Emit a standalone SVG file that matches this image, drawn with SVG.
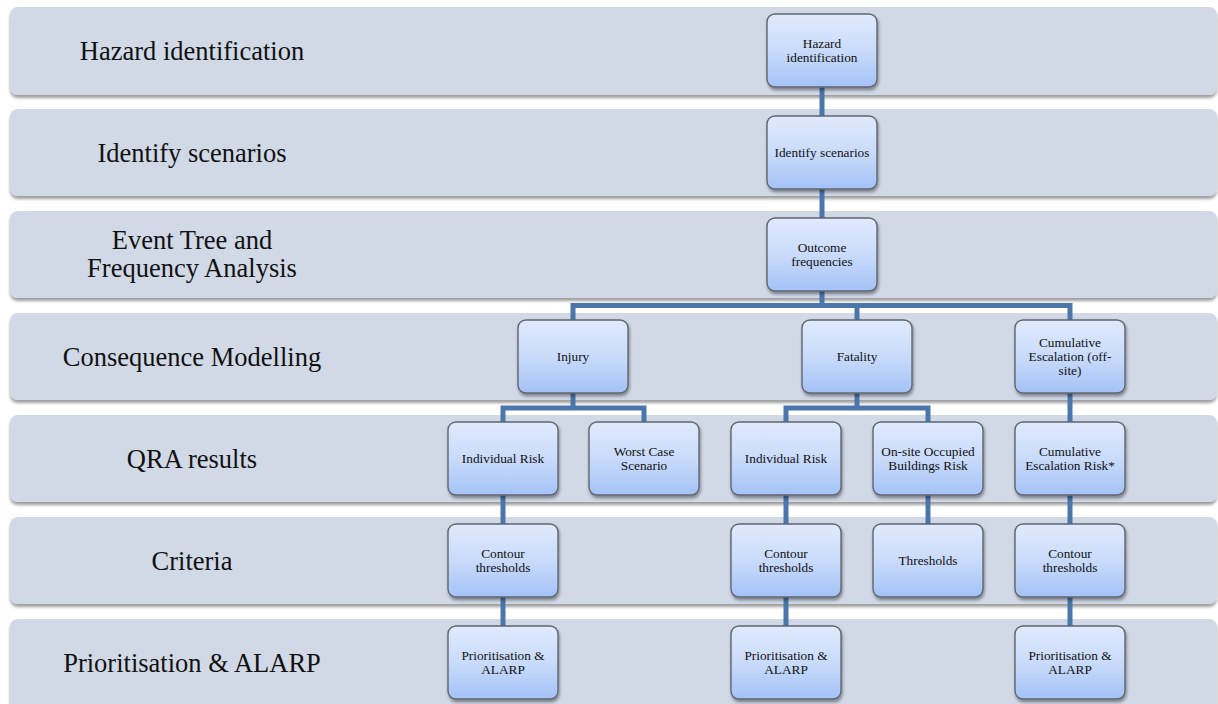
<svg xmlns="http://www.w3.org/2000/svg" width="1218" height="704" viewBox="0 0 1218 704">
<defs>
<linearGradient id="ng" x1="0" y1="0" x2="0" y2="1">
<stop offset="0" stop-color="#e0eafd"/>
<stop offset="0.5" stop-color="#c9dbfa"/>
<stop offset="1" stop-color="#a4c2f7"/>
</linearGradient>
<filter id="bs" x="-2%" y="-10%" width="104%" height="130%">
<feDropShadow dx="0" dy="3" stdDeviation="1.8" flood-color="#000" flood-opacity="0.38"/>
</filter>
<filter id="ns" x="-10%" y="-10%" width="125%" height="130%">
<feDropShadow dx="1" dy="2.5" stdDeviation="1.8" flood-color="#000" flood-opacity="0.4"/>
</filter>
</defs>
<style>
.band{fill:#d1d8e6;filter:url(#bs);}
.bl{font-family:"Liberation Serif","Times New Roman",serif;font-size:26.5px;fill:#111;text-anchor:middle;}
.node rect{fill:url(#ng);stroke:#5f6670;stroke-width:1.4;filter:url(#ns);}
.node text{font-family:"Liberation Serif","Times New Roman",serif;font-size:13.3px;fill:#111;text-anchor:middle;}
.conn path{fill:none;stroke:#4a76ac;stroke-width:5;stroke-linejoin:miter;}
</style>
<rect width="1218" height="704" fill="#ffffff"/>
<g id="bands">
<g id="band-hazard"><rect class="band" x="10" y="7" width="1207" height="88" rx="8"/><text class="bl" x="192" y="60">Hazard identification</text></g>
<g id="band-scenarios"><rect class="band" x="10" y="109" width="1207" height="87" rx="8"/><text class="bl" x="192" y="162">Identify scenarios</text></g>
<g id="band-event"><rect class="band" x="10" y="211" width="1207" height="87" rx="8"/><text class="bl" x="192" y="249">Event Tree and</text><text class="bl" x="192" y="277">Frequency Analysis</text></g>
<g id="band-consequence"><rect class="band" x="10" y="313" width="1207" height="87" rx="8"/><text class="bl" x="192" y="366">Consequence Modelling</text></g>
<g id="band-qra"><rect class="band" x="10" y="415" width="1207" height="87" rx="8"/><text class="bl" x="192" y="468">QRA results</text></g>
<g id="band-criteria"><rect class="band" x="10" y="517" width="1207" height="87" rx="8"/><text class="bl" x="192" y="570">Criteria</text></g>
<g id="band-alarp"><rect class="band" x="10" y="619" width="1207" height="92" rx="8"/><text class="bl" x="192" y="672">Prioritisation &amp; ALARP</text></g>
</g>
<g id="connectors" class="conn">
<path d="M822 87 V116"/>
<path d="M822 189 V218"/>
<path d="M822 291 V305.5"/>
<path d="M573 321 V305.5 H1070 V321"/>
<path d="M857 305.5 V321"/>
<path d="M573 393 V408"/>
<path d="M503 423 V408 H644 V423"/>
<path d="M857 393 V408"/>
<path d="M786 423 V408 H928 V423"/>
<path d="M1070 393 V423"/>
<path d="M503 495 V525"/>
<path d="M786 495 V525"/>
<path d="M928 495 V525"/>
<path d="M1070 495 V525"/>
<path d="M503 597 V627"/>
<path d="M786 597 V627"/>
<path d="M1070 597 V627"/>
</g>
<g id="n-hazard" class="node"><rect x="767" y="14" width="110" height="73" rx="8"/><text x="822" y="48">Hazard</text><text x="822" y="62">identification</text></g>
<g id="n-scenarios" class="node"><rect x="767" y="116" width="110" height="73" rx="8"/><text x="822" y="157">Identify scenarios</text></g>
<g id="n-outcome" class="node"><rect x="767" y="218" width="110" height="73" rx="8"/><text x="822" y="252">Outcome</text><text x="822" y="266">frequencies</text></g>
<g id="n-injury" class="node"><rect x="518" y="320" width="110" height="73" rx="8"/><text x="573" y="361">Injury</text></g>
<g id="n-fatality" class="node"><rect x="802" y="320" width="110" height="73" rx="8"/><text x="857" y="361">Fatality</text></g>
<g id="n-cumesc" class="node"><rect x="1015" y="320" width="110" height="73" rx="8"/><text x="1070" y="347">Cumulative</text><text x="1070" y="361">Escalation (off-</text><text x="1070" y="375">site)</text></g>
<g id="n-ir1" class="node"><rect x="448" y="422" width="110" height="73" rx="8"/><text x="503" y="463">Individual Risk</text></g>
<g id="n-wcs" class="node"><rect x="589" y="422" width="110" height="73" rx="8"/><text x="644" y="456">Worst Case</text><text x="644" y="470">Scenario</text></g>
<g id="n-ir2" class="node"><rect x="731" y="422" width="110" height="73" rx="8"/><text x="786" y="463">Individual Risk</text></g>
<g id="n-onsite" class="node"><rect x="873" y="422" width="110" height="73" rx="8"/><text x="928" y="456">On-site Occupied</text><text x="928" y="470">Buildings Risk</text></g>
<g id="n-cer" class="node"><rect x="1015" y="422" width="110" height="73" rx="8"/><text x="1070" y="456">Cumulative</text><text x="1070" y="470">Escalation Risk*</text></g>
<g id="n-c1" class="node"><rect x="448" y="524" width="110" height="73" rx="8"/><text x="503" y="558">Contour</text><text x="503" y="572">thresholds</text></g>
<g id="n-c2" class="node"><rect x="731" y="524" width="110" height="73" rx="8"/><text x="786" y="558">Contour</text><text x="786" y="572">thresholds</text></g>
<g id="n-thr" class="node"><rect x="873" y="524" width="110" height="73" rx="8"/><text x="928" y="565">Thresholds</text></g>
<g id="n-c3" class="node"><rect x="1015" y="524" width="110" height="73" rx="8"/><text x="1070" y="558">Contour</text><text x="1070" y="572">thresholds</text></g>
<g id="n-p1" class="node"><rect x="448" y="626" width="110" height="73" rx="8"/><text x="503" y="660">Prioritisation &amp;</text><text x="503" y="674">ALARP</text></g>
<g id="n-p2" class="node"><rect x="731" y="626" width="110" height="73" rx="8"/><text x="786" y="660">Prioritisation &amp;</text><text x="786" y="674">ALARP</text></g>
<g id="n-p3" class="node"><rect x="1015" y="626" width="110" height="73" rx="8"/><text x="1070" y="660">Prioritisation &amp;</text><text x="1070" y="674">ALARP</text></g>
</svg>
